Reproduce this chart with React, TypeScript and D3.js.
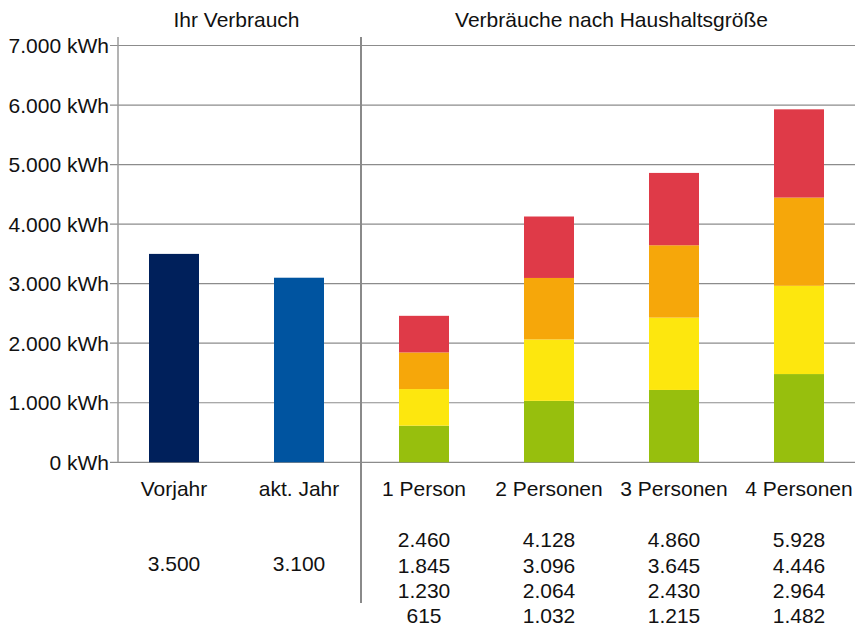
import React, { useEffect, useRef } from "react";
import * as d3 from "d3";

const ownLabels = ["Vorjahr", "akt. Jahr"];
const ownValues = [3500, 3100];
const ownColors = ["#00205b", "#0054a0"];

const householdLabels = ["1 Person", "2 Personen", "3 Personen", "4 Personen"];
// four equal levels per household, stacked bottom to top
const levelGreen = [615, 1032, 1215, 1482];
const levelYellow = [615, 1032, 1215, 1482];
const levelOrange = [615, 1032, 1215, 1482];
const levelRed = [615, 1032, 1215, 1482];
const levelColors = ["#97bf0d", "#fde70e", "#f6a70a", "#df3a48"];

const yTicks = [0, 1000, 2000, 3000, 4000, 5000, 6000, 7000];

const fmt = (v: number) => d3.format(",")(v).replace(/,/g, ".");

const App = () => {
  const container = useRef<SVGSVGElement>(null);

  useEffect(() => {
    const svg = d3.select(container.current);
    svg.selectAll("*").remove();

    const width = 855;
    const axisX = 118;
    const sepX = 361;
    const font = "'Liberation Sans', Arial, sans-serif";

    const y = d3.scaleLinear().domain([0, 7000]).range([462.3, 45.5]);

    const allLabels = [...ownLabels, ...householdLabels];
    const x = d3.scaleBand()
      .domain(allLabels)
      .range([111.5, 861.5])
      .paddingInner(0.6)
      .paddingOuter(0.3);

    const g = svg.append("g").style("font-family", font);

    // gridlines
    g.selectAll("line.grid")
      .data(yTicks)
      .enter()
      .append("line")
      .attr("x1", axisX - 8)
      .attr("x2", width)
      .attr("y1", d => y(d))
      .attr("y2", d => y(d))
      .attr("stroke", "#8c8c8c")
      .attr("stroke-width", 1.2);

    // y axis line
    g.append("line")
      .attr("x1", axisX).attr("x2", axisX)
      .attr("y1", 37).attr("y2", y(0))
      .attr("stroke", "#9a9a9a")
      .attr("stroke-width", 1.5);

    g.selectAll("text.ytick")
      .data(yTicks)
      .enter()
      .append("text")
      .attr("x", axisX - 9)
      .attr("y", d => y(d))
      .attr("dy", "0.36em")
      .attr("text-anchor", "end")
      .attr("font-size", 21)
      .attr("fill", "#111")
      .text(d => `${fmt(d)} kWh`);

    // own consumption bars
    g.selectAll("rect.own")
      .data(ownValues)
      .enter()
      .append("rect")
      .attr("x", (d, i) => x(ownLabels[i]) as number)
      .attr("width", x.bandwidth())
      .attr("y", d => y(d))
      .attr("height", d => y(0) - y(d))
      .attr("fill", (d, i) => ownColors[i]);

    // stacked household bars
    const rows = householdLabels.map((label, i) => ({
      label,
      green: levelGreen[i],
      yellow: levelYellow[i],
      orange: levelOrange[i],
      red: levelRed[i],
    }));
    const keys = ["green", "yellow", "orange", "red"];
    const series = d3.stack<any>().keys(keys)(rows);

    series.forEach((s, si) => {
      g.selectAll(`rect.s${si}`)
        .data(s)
        .enter()
        .append("rect")
        .attr("x", d => x(d.data.label) as number)
        .attr("width", x.bandwidth())
        .attr("y", d => y(d[1]))
        .attr("height", d => y(d[0]) - y(d[1]))
        .attr("fill", levelColors[si]);
    });

    // separator
    g.append("line")
      .attr("x1", sepX).attr("x2", sepX)
      .attr("y1", 37).attr("y2", 603)
      .attr("stroke", "#8a8a8a")
      .attr("stroke-width", 2);

    // section titles
    const cx = (l: string) => (x(l) as number) + x.bandwidth() / 2;
    g.append("text")
      .attr("x", (cx(ownLabels[0]) + cx(ownLabels[1])) / 2)
      .attr("y", 27)
      .attr("text-anchor", "middle")
      .attr("font-size", 21)
      .attr("fill", "#111")
      .text("Ihr Verbrauch");
    g.append("text")
      .attr("x", (cx(householdLabels[0]) + cx(householdLabels[3])) / 2)
      .attr("y", 27)
      .attr("text-anchor", "middle")
      .attr("font-size", 21)
      .attr("fill", "#111")
      .text("Verbräuche nach Haushaltsgröße");

    // category labels
    g.selectAll("text.cat")
      .data(allLabels)
      .enter()
      .append("text")
      .attr("x", d => cx(d))
      .attr("y", 496)
      .attr("text-anchor", "middle")
      .attr("font-size", 21)
      .attr("fill", "#111")
      .text(d => d);

    // value labels under own bars
    g.selectAll("text.ownval")
      .data(ownValues)
      .enter()
      .append("text")
      .attr("x", (d, i) => cx(ownLabels[i]))
      .attr("y", 571)
      .attr("text-anchor", "middle")
      .attr("font-size", 21)
      .attr("fill", "#111")
      .text(d => fmt(d));

    // cumulative values under household bars, top level first
    const lineYs = [546.7, 572.5, 597.8, 623.3];
    rows.forEach((r, i) => {
      const cums = series.map(s => s[i][1]).reverse();
      g.selectAll(`text.hv${i}`)
        .data(cums)
        .enter()
        .append("text")
        .attr("x", cx(r.label))
        .attr("y", (d, j) => lineYs[j])
        .attr("text-anchor", "middle")
        .attr("font-size", 21)
        .attr("fill", "#111")
        .text(d => fmt(d));
    });
  }, []);

  return (
    <svg
      ref={container}
      width={855}
      height={628}
      style={{ position: "absolute", left: 0, top: 0, background: "#fff" }}
    />
  );
};

export default App;
